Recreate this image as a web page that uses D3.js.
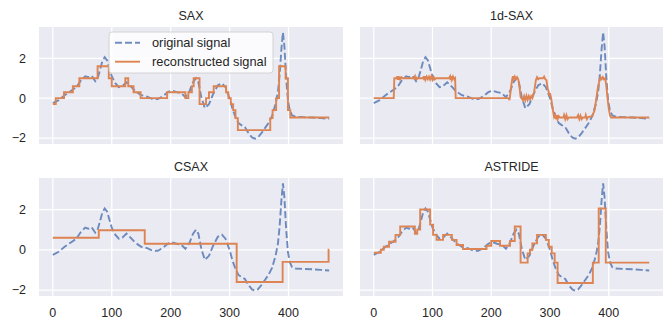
<!DOCTYPE html>
<html lang="en">
<head>
<meta charset="UTF-8">
<script src="https://d3js.org/d3.v7.min.js"></script>
<title>Signal reconstructions</title>
<style>
    body { margin: 0; background: white; }
    svg text { font-family: "Liberation Sans", Arial, sans-serif; fill: #262626; }
</style>
</head>
<body>
<div id="chart"></div>
<script>
// original signal as [t, value]
const original = [
    [0,-0.25],[10,-0.1],[20,0.15],[30,0.35],[40,0.55],[48,0.9],[55,1.1],[60,1.05],[66,1.12],[72,0.85],
    [76,1.0],[80,1.4],[84,1.85],[88,2.05],[92,1.9],[96,1.5],[100,1.1],[106,0.75],[112,0.55],[118,0.6],
    [125,0.8],[132,0.6],[140,0.35],[150,0.15],[160,0.08],[170,-0.05],[178,-0.05],[186,0.08],[195,0.3],
    [202,0.38],[210,0.3],[218,0.25],[225,0.05],[232,0.35],[238,0.8],[243,1.0],[247,0.8],[252,0.05],
    [258,-0.5],[265,-0.3],[272,0.2],[280,0.65],[287,0.75],[293,0.55],[300,0.0],[305,-0.55],[310,-0.95],
    [315,-1.25],[320,-1.35],[326,-1.45],[332,-1.75],[338,-1.97],[343,-2.03],[348,-1.97],[354,-1.75],
    [360,-1.5],[366,-1.25],[372,-0.9],[378,-0.3],[382,0.3],[385,1.2],[388,2.5],[390.5,3.3],[393,2.6],
    [396,1.0],[399,-0.1],[402,-0.6],[406,-0.86],[412,-0.93],[425,-0.95],[440,-0.97],[455,-1.0],[469,-1.03]
];

// SAX reconstruction: [segment start, level]
const saxSteps = [
    [0,-0.3],[5,0],[19,0.3],[34,0.6],[45,1.0],[76,1.6],[95,1.0],[100,0.6],[123,1.0],[128,0.6],[137,0.3],
    [149,0],[194,0.3],[225,0],[230,0.3],[236,0.6],[239,1.0],[249,-0.3],[260,0],[265,0.3],[273,0.6],
    [294,0.3],[298,0],[302,-0.3],[306,-0.6],[310,-1.0],[314,-1.6],[369,-1.0],[373,-0.6],[379,0],
    [384,1.6],[395,1.0],[399,-0.6],[403,-0.97],[469,-0.97]
];

// 1d-SAX reconstruction: polyline points [t, value]
const oneDSax = [
    [0,0],[34,0],[35,1.0],[39,1.0],[40,1.1],[41,0.92],[42,1.1],[43,0.92],[44,1.08],[45,0.95],[47,1.05],
    [49,1.0],[68,1.0],[70,1.1],[71,0.92],[72,1.08],[73,0.95],[75,1.0],[84,1.0],[85,1.1],[86,0.9],
    [87,1.1],[88,0.93],[90,1.08],[92,0.95],[94,1.08],[96,0.93],[98,1.1],[100,0.92],[102,1.06],
    [104,0.95],[106,1.0],[128,1.0],[130,1.1],[131,0.9],[132,1.1],[133,0.92],[135,1.08],[137,0.95],
    [138.5,1.0],[139.5,0],[230,0],[231,-0.1],[232,0.1],[234,0.6],[236,1.0],[237,1.1],[238,0.95],
    [240,1.08],[242,0.95],[244,1.05],[246,0.95],[248,0.6],[250,0.05],[254,-0.1],[256,0.1],[258,-0.1],
    [260,0.12],[262,-0.08],[264,0.1],[266,-0.05],[268,0.1],[270,0.0],[273,0.3],[276,0.9],[278,1.05],
    [280,0.95],[282,1.0],[288,1.0],[290,1.08],[292,0.95],[294,0.9],[296,0.5],[298,0.3],[299,0.1],
    [300,0.25],[302,0.0],[305,-0.6],[307,-0.95],[309,-0.85],[310,-1.05],[312,-0.85],[313,-1.05],
    [315,-0.9],[317,-0.97],[323,-0.97],[324,-0.85],[326,-1.05],[328,-0.85],[330,-1.05],[332,-0.97],
    [346,-0.97],[348,-0.85],[350,-1.05],[352,-0.88],[354,-1.05],[356,-0.97],[360,-0.97],[361,-0.85],
    [363,-1.05],[365,-0.95],[372,-0.9],[376,-0.6],[379,0],[382,0.6],[385,0.95],[386,1.05],[388,0.95],
    [390,1.05],[392,0.95],[394,1.0],[396,0.6],[398,0],[400,-0.5],[402,-0.85],[404,-0.97],[469,-0.97]
];

// CSAX reconstruction: [segment start, level]
const csaxSteps = [
    [0,0.6],[78,0.97],[156,0.3],[234,0.3],[312,-1.6],[390,-0.6],[468,0],[469,0]
];

// ASTRIDE reconstruction: [segment start, level]
const astrideSteps = [
    [0,-0.15],[12,0],[17,0.15],[26,0.4],[37,0.74],[45,1.16],[70,0.8],[74,1.0],[79,2.0],[96,1.25],
    [101,0.74],[107,0.49],[118,0.74],[133,0.49],[141,0.24],[152,0.04],[192,0.2],[200,0.44],[215,0.2],
    [232,0.44],[240,1.16],[250,-0.64],[262,-0.18],[266,0],[270,0.32],[278,0.74],[293,0.49],[298,0.15],
    [303,-0.18],[308,-0.64],[313,-1.65],[373,-0.64],[383,2.05],[395,-0.64],[469,-0.64]
];

const titles = ["SAX", "1d-SAX", "CSAX", "ASTRIDE"];
const xTicks = [0, 100, 200, 300, 400];
const yTicks = [-2, 0, 2];

const width = 667, height = 324;
const blue = "#4c72b0", orange = "#dd8452";

const svg = d3.select("#chart").append("svg")
    .attr("width", width)
    .attr("height", height);

const cols = [[39, 343], [360, 663]];
const rows = [[27, 144], [178, 296]];

const xDomain = [-0.05 * 469, 469 * 1.05];
const yMin = -2.03, yMax = 3.3, yPad = (yMax - yMin) * 0.05;

const panels = [
    { title: titles[0], data: saxSteps, curve: d3.curveStepAfter, r: 0, c: 0 },
    { title: titles[1], data: oneDSax, curve: d3.curveLinear, r: 0, c: 1 },
    { title: titles[2], data: csaxSteps, curve: d3.curveStepAfter, r: 1, c: 0 },
    { title: titles[3], data: astrideSteps, curve: d3.curveStepAfter, r: 1, c: 1 }
];

panels.forEach(p => {
    const x = d3.scaleLinear().domain(xDomain).range(cols[p.c]);
    const y = d3.scaleLinear().domain([yMin - yPad, yMax + yPad]).range([rows[p.r][1], rows[p.r][0]]);
    const g = svg.append("g");

    g.append("rect")
        .attr("x", cols[p.c][0]).attr("y", rows[p.r][0])
        .attr("width", cols[p.c][1] - cols[p.c][0])
        .attr("height", rows[p.r][1] - rows[p.r][0])
        .attr("fill", "#eaeaf2");

    // grid
    g.selectAll(".gx").data(xTicks).enter().append("line")
        .attr("x1", d => x(d)).attr("x2", d => x(d))
        .attr("y1", rows[p.r][0]).attr("y2", rows[p.r][1])
        .attr("stroke", "white").attr("stroke-width", 1.25);
    g.selectAll(".gy").data(yTicks).enter().append("line")
        .attr("x1", cols[p.c][0]).attr("x2", cols[p.c][1])
        .attr("y1", d => y(d)).attr("y2", d => y(d))
        .attr("stroke", "white").attr("stroke-width", 1.25);

    // tick labels only on outer axes (shared axes)
    if (p.c === 0) {
        g.selectAll(".ty").data(yTicks).enter().append("text")
            .attr("x", cols[0][0] - 13)
            .attr("y", d => y(d))
            .attr("dy", "0.35em")
            .attr("text-anchor", "end")
            .style("font-size", "12.5px")
            .text(d => d < 0 ? "\u2212" + Math.abs(d) : d);
    }
    if (p.r === 1) {
        g.selectAll(".tx").data(xTicks).enter().append("text")
            .attr("x", d => x(d))
            .attr("y", rows[1][1] + 17)
            .attr("dy", "0.35em")
            .attr("text-anchor", "middle")
            .style("font-size", "12.5px")
            .text(d => d);
    }

    g.append("text")
        .attr("x", (cols[p.c][0] + cols[p.c][1]) / 2)
        .attr("y", rows[p.r][0] - 7.5)
        .attr("text-anchor", "middle")
        .style("font-size", "12.5px")
        .text(p.title);

    const line = d3.line().x(d => x(d[0])).y(d => y(d[1]));

    g.append("path")
        .attr("d", line(original))
        .attr("fill", "none")
        .attr("stroke", blue)
        .attr("stroke-opacity", 0.8)
        .attr("stroke-width", 1.9)
        .attr("stroke-dasharray", "7,3");

    g.append("path")
        .attr("d", line.curve(p.curve)(p.data))
        .attr("fill", "none")
        .attr("stroke", orange)
        .attr("stroke-width", 1.9);

    if (p.r === 0 && p.c === 0) {
        const lg = g.append("g");
        lg.append("rect")
            .attr("x", 109).attr("y", 32)
            .attr("width", 164).attr("height", 41)
            .attr("rx", 3)
            .attr("fill", "white").attr("fill-opacity", 0.8)
            .attr("stroke", "#cccccc").attr("stroke-width", 0.8);
        const items = [
            { label: "original signal", color: blue, dash: "7,3", op: 0.8 },
            { label: "reconstructed signal", color: orange, dash: null, op: 1 }
        ];
        items.forEach((it, i) => {
            const cy = 42.7 + i * 19;
            lg.append("line")
                .attr("x1", 115).attr("x2", 140)
                .attr("y1", cy).attr("y2", cy)
                .attr("stroke", it.color)
                .attr("stroke-opacity", it.op)
                .attr("stroke-width", 1.9)
                .attr("stroke-dasharray", it.dash);
            lg.append("text")
                .attr("x", 152).attr("y", cy)
                .attr("dy", "0.35em")
                .style("font-size", "12.8px")
                .text(it.label);
        });
    }
});
</script>
</body>
</html>
